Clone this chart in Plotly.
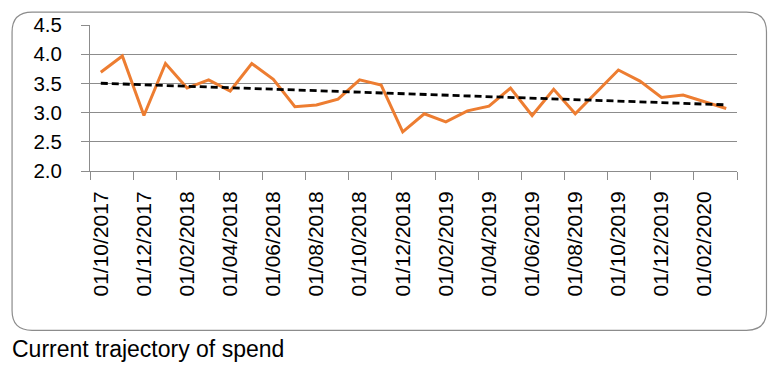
import numpy as np
import plotly.graph_objects as go

months = ["01/10/2017", "01/11/2017", "01/12/2017", "01/01/2018", "01/02/2018", "01/03/2018",
          "01/04/2018", "01/05/2018", "01/06/2018", "01/07/2018", "01/08/2018", "01/09/2018",
          "01/10/2018", "01/11/2018", "01/12/2018", "01/01/2019", "01/02/2019", "01/03/2019",
          "01/04/2019", "01/05/2019", "01/06/2019", "01/07/2019", "01/08/2019", "01/09/2019",
          "01/10/2019", "01/11/2019", "01/12/2019", "01/01/2020", "01/02/2020", "01/03/2020"]
spend = [3.69, 3.97, 2.95, 3.84, 3.42, 3.56, 3.37, 3.84, 3.57, 3.10,
         3.13, 3.23, 3.56, 3.47, 2.67, 2.98, 2.84, 3.03, 3.11, 3.42,
         2.95, 3.40, 2.98, 3.36, 3.73, 3.54, 3.26, 3.30, 3.19, 3.07]
y_ticks = [2.0, 2.5, 3.0, 3.5, 4.0, 4.5]
caption = "Current trajectory of spend"

W, H = 784, 368
L, R, T, B = 90, 737.5, 25, 171.3

idx = np.arange(len(spend))
coef = np.polyfit(idx, spend, 1)
trend = np.polyval(coef, idx)

fig = go.Figure()
fig.add_trace(go.Scatter(x=idx, y=spend, mode="lines",
                         line=dict(color="#ED7D31", width=3), showlegend=False))
fig.add_trace(go.Scatter(x=idx, y=trend, mode="lines",
                         line=dict(color="#000000", width=2.8, dash="7px,4px"), showlegend=False))

grid = "#8c8c8c"
font = "Liberation Sans, Arial, sans-serif"
fig.update_layout(
    width=W, height=H,
    margin=dict(l=L, r=W - R, t=T, b=H - B, pad=0),
    paper_bgcolor="white", plot_bgcolor="white",
    font=dict(family=font, color="#000000", size=20),
    xaxis=dict(range=[-0.5, len(spend) - 0.5],
               tickmode="array", tickvals=list(idx[::2]), ticktext=months[::2],
               tickangle=-90, ticks="", showgrid=False, zeroline=False,
               showline=True, linecolor=grid, linewidth=1,
               tickfont=dict(size=21), ticklabelstandoff=11,
               minor=dict(tickmode="array",
                          tickvals=[i - 0.5 for i in range(0, len(spend) + 1, 2)] + [len(spend) - 0.5],
                          ticks="outside", ticklen=8, tickcolor=grid, tickwidth=1, showgrid=False)),
    yaxis=dict(range=[2.0, 4.5], tickmode="array", tickvals=y_ticks,
               ticktext=[f"{v:.1f}" for v in y_ticks],
               ticks="outside", ticklen=8, tickcolor=grid, tickwidth=1,
               showgrid=True, gridcolor=grid, gridwidth=1, zeroline=False,
               showline=True, linecolor=grid, linewidth=1,
               tickfont=dict(size=20.5), ticklabelstandoff=15),
)

def px(x):
    return (x - L) / (R - L)

def py(y):
    return (B - y) / (B - T)

x0, x1, y0, y1, r = 12, 767, 12, 331, 20
path = (f"M {px(x0 + r)},{py(y0)} L {px(x1 - r)},{py(y0)} "
        f"Q {px(x1)},{py(y0)} {px(x1)},{py(y0 + r)} "
        f"L {px(x1)},{py(y1 - r)} Q {px(x1)},{py(y1)} {px(x1 - r)},{py(y1)} "
        f"L {px(x0 + r)},{py(y1)} Q {px(x0)},{py(y1)} {px(x0)},{py(y1 - r)} "
        f"L {px(x0)},{py(y0 + r)} Q {px(x0)},{py(y0)} {px(x0 + r)},{py(y0)} Z")
fig.add_shape(type="path", path=path, xref="paper", yref="paper",
              line=dict(color="#8c8c8c", width=1.2), layer="below")

fig.add_annotation(text=caption, xref="paper", yref="paper",
                   x=px(10), y=py(350), xanchor="left", yanchor="middle",
                   showarrow=False, font=dict(size=23, family=font, color="#000000"))

fig.write_html("out.html", config={"displayModeBar": False},
               post_script="document.body.style.margin='0';document.body.style.padding='0';")
